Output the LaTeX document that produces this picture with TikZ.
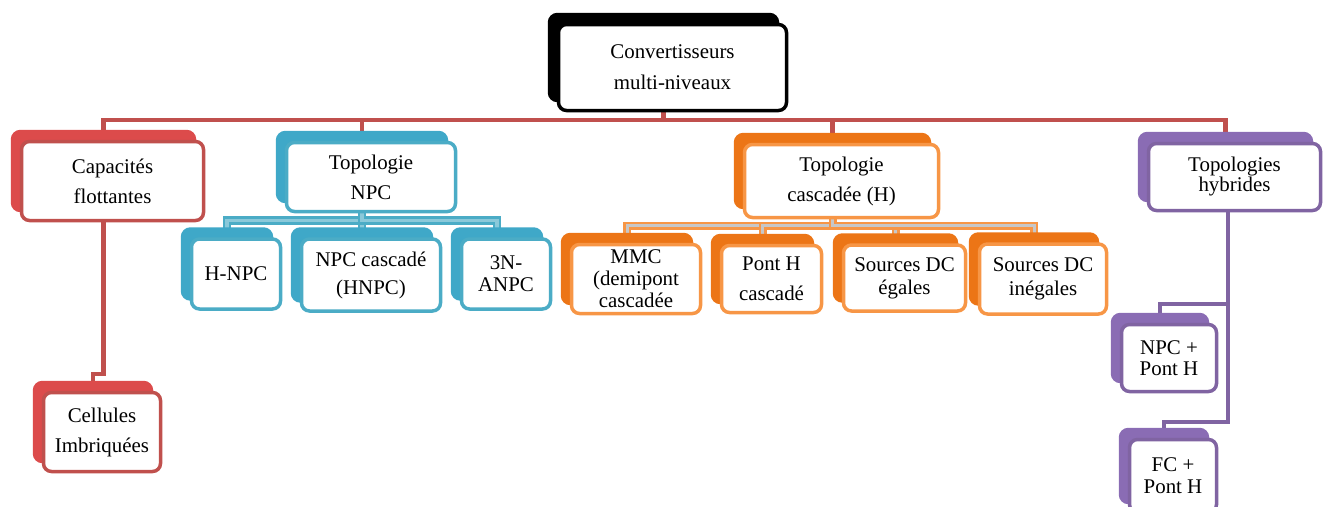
\documentclass[tikz,border=0pt]{standalone}
\usepackage{fontspec}
\setmainfont{Liberation Serif}
\usetikzlibrary{shadows,backgrounds}
\definecolor{capred}{HTML}{C0504D}
\definecolor{capback}{HTML}{DC4B4B}
\definecolor{npcblue}{HTML}{4BACC6}
\definecolor{npcback}{HTML}{3FA8C8}
\definecolor{cascorange}{HTML}{F79646}
\definecolor{cascback}{HTML}{EC7516}
\definecolor{hybpurple}{HTML}{8064A2}
\definecolor{hybback}{HTML}{8A6CB4}

\begin{document}
\begin{tikzpicture}[x=1pt,y=-1pt,
  box/.style 2 args={draw=#1,fill=white,line width=3.5pt,rounded corners=8pt,align=center,inner sep=0pt,
    copy shadow={shadow xshift=-9pt,shadow yshift=10pt,fill=#2,draw=#2}},
  lsp/.style={font=\fontsize{20.9}{#1}\selectfont},
  redln/.style={capred,line width=4.5pt},
  npcln/.style={npcblue,line width=2.5pt,double=npcblue!65,double distance=3.5pt},
  cascln/.style={cascorange,line width=2.5pt,double=black!22,double distance=3pt},
  hybln/.style={hybpurple,line width=4pt}]
\useasboundingbox (0,0) rectangle (1333,506);
\node[box={black}{black},lsp=31,minimum width=228,minimum height=86] (root) at (672.5,67.5) {Convertisseurs\\multi-niveaux};
\node[box={capred}{capback},lsp=30,minimum width=182,minimum height=79] (capa) at (112.5,181) {Capacités\\flottantes};
\node[box={npcblue}{npcback},lsp=30,minimum width=169,minimum height=69] (npc) at (371,177) {Topologie\\NPC};
\node[box={cascorange}{cascback},lsp=30,minimum width=194,minimum height=73] (casc) at (841.5,181) {Topologie\\cascadée (H)};
\node[box={hybpurple}{hybback},lsp=20,minimum width=172,minimum height=67] (hyb) at (1234.5,177) {Topologies\\hybrides};
% NPC family
\node[box={npcblue}{npcback},lsp=22,minimum width=89,minimum height=70] (hnpc) at (236,274) {H-NPC};
\node[box={npcblue}{npcback},lsp=28,minimum width=139,minimum height=72] (npcc) at (371,275) {NPC cascadé\\(HNPC)};
\node[box={npcblue}{npcback},lsp=22,minimum width=89,minimum height=70] (anpc) at (506,274) {3N-\\ANPC};
% cascaded family
\node[box={cascorange}{cascback},lsp=22,minimum width=129,minimum height=69] (mmc) at (636,279) {MMC\\(demipont\\cascadée};
\node[box={cascorange}{cascback},lsp=30,minimum width=100,minimum height=67] (ponth) at (771.5,279) {Pont H\\cascadé};
\node[box={cascorange}{cascback},lsp=23,minimum width=122,minimum height=66] (egal) at (904.5,278) {Sources DC\\égales};
\node[box={cascorange}{cascback},lsp=24,minimum width=127,minimum height=70] (inegal) at (1043,279) {Sources DC\\inégales};
% the rest
\node[box={capred}{capback},lsp=30,minimum width=117,minimum height=79] (cell) at (102,432) {Cellules\\Imbriquées};
\node[box={hybpurple}{hybback},lsp=21,minimum width=95,minimum height=67] (npch) at (1169,358) {NPC +\\Pont H};
\node[box={hybpurple}{hybback},lsp=22,minimum width=87,minimum height=73] (fch) at (1173,476) {FC +\\Pont H};
\begin{scope}[on background layer]
\draw[redln] ([xshift=-9pt]capa.north) -- ++(0,-20) -| ([xshift=-9pt]root.south);
\draw[redln] ([xshift=-9pt]npc.north) -- ++(0,-21) -| ([xshift=-9pt]root.south);
\draw[redln] ([xshift=-9pt]casc.north) -- ++(0,-23) -| ([xshift=-9pt]root.south);
\draw[redln] ([xshift=-9pt]hyb.north) -- ++(0,-22) -| ([xshift=-9pt]root.south);
\draw[redln] ([xshift=-9pt]cell.north) -- ++(0,-17) -| ([xshift=-9pt]capa.south);
\draw[npcln] ([xshift=-9pt]hnpc.north) -- ++(0,-17) -| ([xshift=-9pt]npc.south);
\draw[npcln] ([xshift=-9pt]npcc.north) -- ++(0,-17) -| ([xshift=-9pt]npc.south);
\draw[npcln] ([xshift=-9pt]anpc.north) -- ++(0,-17) -| ([xshift=-9pt]npc.south);
\draw[cascln] ([xshift=-9pt]mmc.north) -- ++(0,-17) -| ([xshift=-9pt]casc.south);
\draw[cascln] ([xshift=-9pt]ponth.north) -- ++(0,-18) -| ([xshift=-9pt]casc.south);
\draw[cascln] ([xshift=-9pt]egal.north) -- ++(0,-17.5) -| ([xshift=-9pt]casc.south);
\draw[cascln] ([xshift=-9pt]inegal.north) -- ++(0,-16.5) -| ([xshift=-9pt]casc.south);
\draw[hybln] ([xshift=-9pt]npch.north) -- ++(0,-19) -| ([xshift=-7pt]hyb.south);
\draw[hybln] ([xshift=-9pt]fch.north) -- ++(0,-16) -| ([xshift=-7pt]hyb.south);
\end{scope}
\end{tikzpicture}
\end{document}
